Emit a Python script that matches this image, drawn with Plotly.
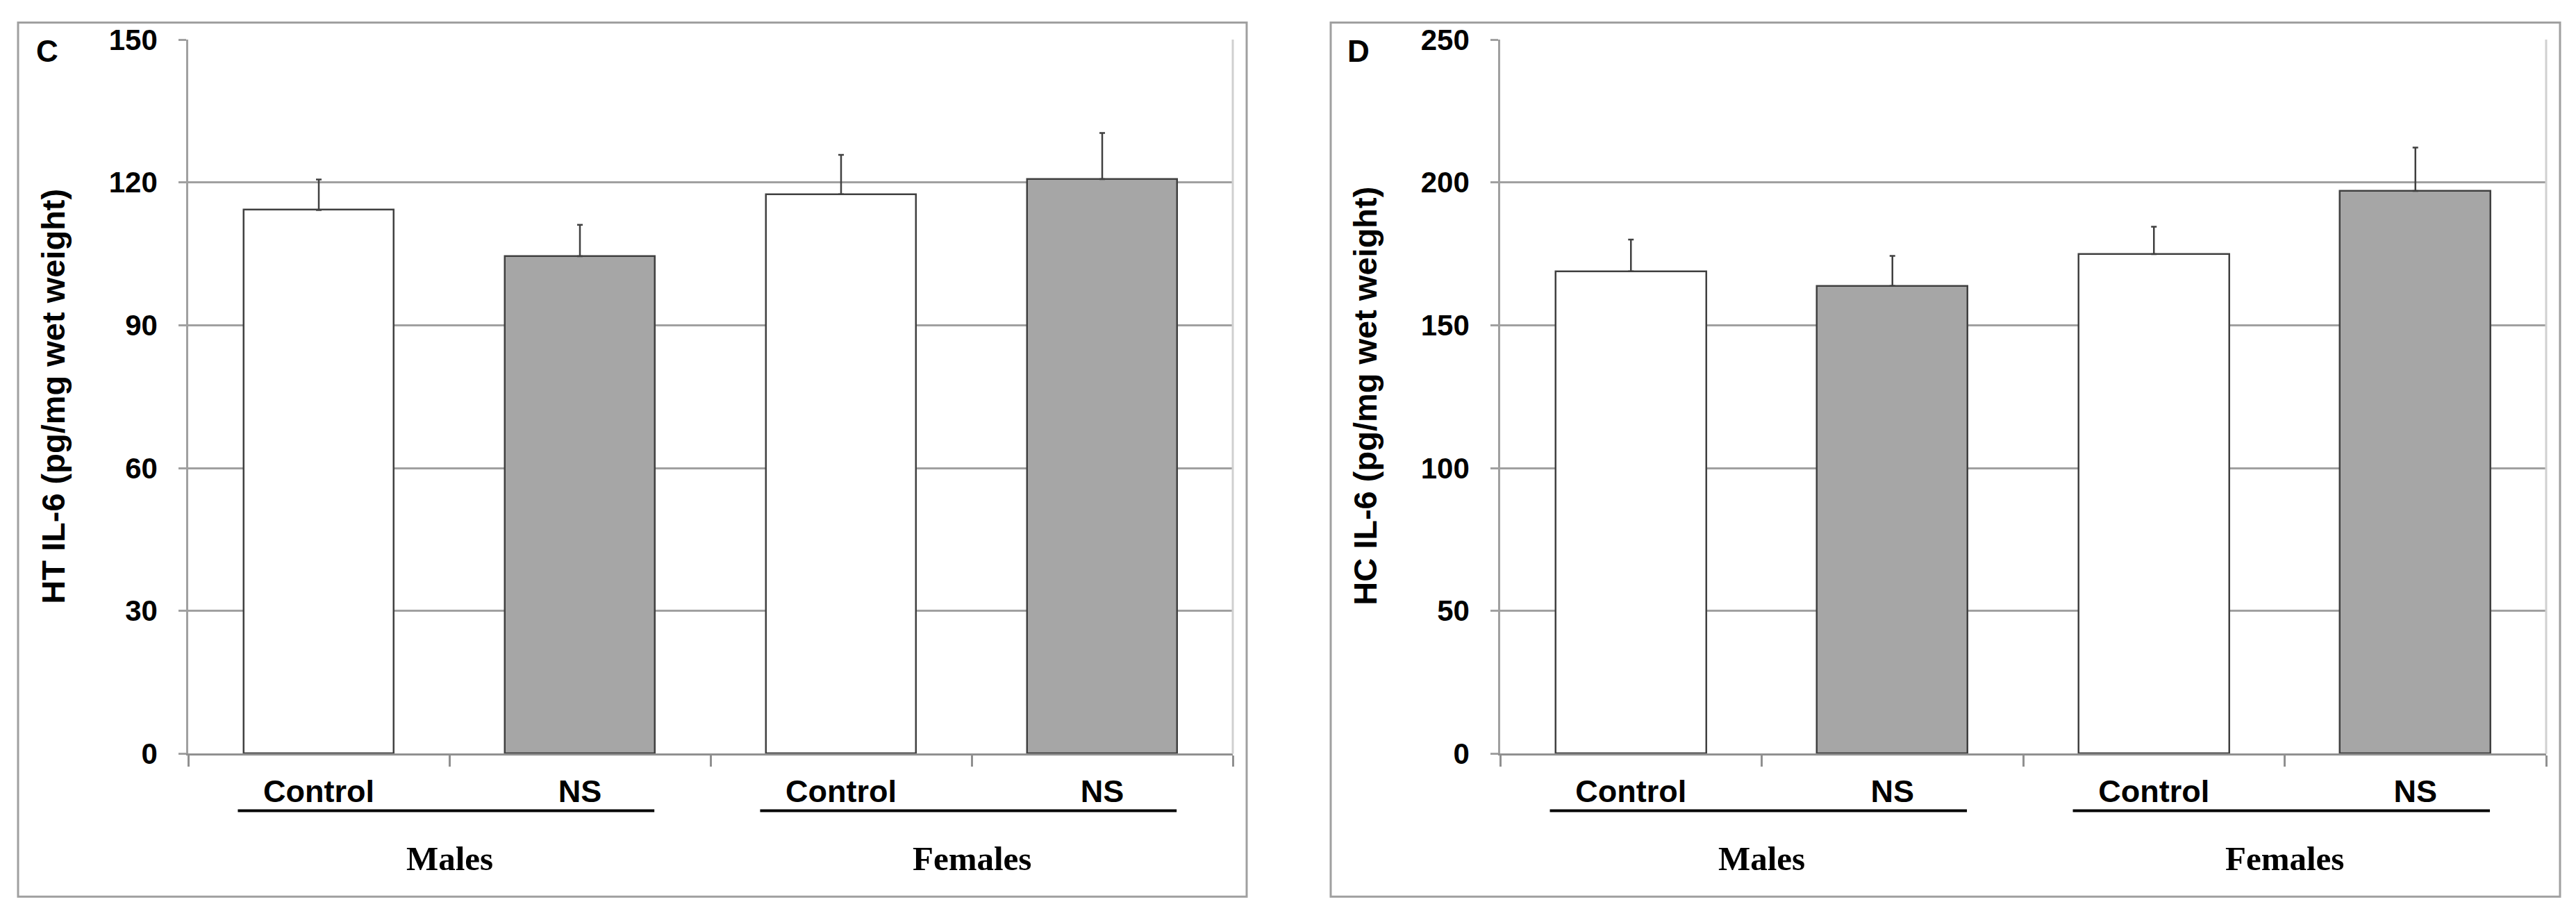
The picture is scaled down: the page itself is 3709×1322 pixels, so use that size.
import plotly.graph_objects as go

# ---- data ----
categories = ["Control", "NS", "Control", "NS"]
groups = ["Males", "Females"]
ht_il6 = [114.2, 104.5, 117.5, 120.7]
ht_err = [6.4, 6.6, 8.3, 9.7]
hc_il6 = [168.9, 163.8, 174.9, 197.0]
hc_err = [11.1, 10.5, 9.6, 15.2]
ht_ticks = [0, 30, 60, 90, 120, 150]
hc_ticks = [0, 50, 100, 150, 200, 250]
panel_letters = ["C", "D"]
ytitles = ["HT IL-6 (pg/mg wet weight)", "HC IL-6 (pg/mg wet weight)"]

# figure size and page placement (page offsets of the figure in the window)
W, H = 3693, 1330
OX = 8
OY = 31
SY = 1.036   # vertical page-to-picture factor


def px(x):
    return (x - OX) / W


def py(y):
    return 1 - (SY * y - OY) / H


bar_colors = ["#FFFFFF", "#A6A6A6", "#FFFFFF", "#A6A6A6"]
xpos = list(range(len(categories)))

SANS = "Liberation Sans, Arial, sans-serif"
SERIF = "Liberation Serif, Times New Roman, serif"
GRID = "#A0A0A0"
EDGE = "#404040"

fig = go.Figure()


def add_bars(vals, errs, xa, ya):
    fig.add_trace(go.Bar(
        x=xpos, y=vals, xaxis=xa, yaxis=ya, width=0.577,
        marker=dict(color=bar_colors, line=dict(color=EDGE, width=2.5)),
        error_y=dict(type="data", array=errs, arrayminus=[0] * len(errs),
                     symmetric=False, color=EDGE, thickness=2.5, width=4),
        showlegend=False, hoverinfo="skip"))


add_bars(ht_il6, ht_err, "x", "y")
add_bars(hc_il6, hc_err, "x2", "y2")

ydom = [py(1085), py(56)]
xdom1 = [px(271), px(1775)]
xdom2 = [px(2160), px(3666)]


def xaxis_cfg(dom, anchor):
    return dict(
        domain=dom, anchor=anchor, range=[-0.5, 3.5], tickmode="array",
        tickvals=xpos, ticktext=categories, ticks="", showgrid=False,
        zeroline=False, showline=True, linecolor="#909090", linewidth=2.5,
        tickfont=dict(family=SANS, size=45, color="black", weight="bold"),
        ticklabelstandoff=13,
        minor=dict(tickmode="array", tickvals=[-0.5, 0.5, 1.5, 2.5, 3.5],
                   ticks="outside", ticklen=16, tickwidth=2.5,
                   tickcolor="#909090", showgrid=False),
        fixedrange=True)


def yaxis_cfg(dom, ticks, anchor):
    return dict(
        domain=dom, range=[0, ticks[-1]], tickmode="array", tickvals=ticks,
        ticks="outside", ticklen=11, tickwidth=2.5, tickcolor=GRID,
        showgrid=True, gridcolor=GRID, gridwidth=2.5, zeroline=False,
        showline=True, linecolor=GRID, linewidth=2.5, anchor=anchor,
        tickfont=dict(family=SANS, size=42, color="black", weight="bold"),
        ticklabelstandoff=22, fixedrange=True)


fig.update_layout(
    width=W, height=H, autosize=False, margin=dict(l=0, r=0, t=0, b=0),
    paper_bgcolor="white", plot_bgcolor="white", bargap=0,
    xaxis=xaxis_cfg(xdom1, "y"),
    yaxis=yaxis_cfg(ydom, ht_ticks, "x"),
    xaxis2=xaxis_cfg(xdom2, "y2"),
    yaxis2=yaxis_cfg(ydom, hc_ticks, "x2"),
)

shapes = []
annotations = []
panels = [
    dict(border=(26, 1795), letter_x=68, title_x=77, xa="x", ya="y"),
    dict(border=(1916, 3686), letter_x=1956, title_x=1966, xa="x2", ya="y2"),
]

for i, p in enumerate(panels):
    x0, x1 = p["border"]
    shapes.append(dict(type="rect", xref="paper", yref="paper",
                       x0=px(x0), x1=px(x1), y0=py(1291), y1=1 - 1.5 / H,
                       line=dict(color=GRID, width=3), fillcolor="rgba(0,0,0,0)"))
    # right edge of plot area
    shapes.append(dict(type="line", xref=p["xa"] + " domain", yref=p["ya"] + " domain",
                       x0=1, x1=1, y0=0, y1=1, line=dict(color="#D0D0D0", width=3)))
    # group underlines
    for (a, b) in [(-0.31, 1.285), (1.69, 3.285)]:
        shapes.append(dict(type="line", xref=p["xa"], yref="paper",
                           x0=a, x1=b, y0=py(1167), y1=py(1167),
                           line=dict(color="black", width=4)))
    for gi, g in enumerate(groups):
        annotations.append(dict(text=g, xref=p["xa"], yref="paper",
                                x=0.5 + 2 * gi, y=py(1236), showarrow=False,
                                xanchor="center", yanchor="middle",
                                font=dict(family=SERIF, size=49, color="black",
                                          weight="bold")))
    annotations.append(dict(text=panel_letters[i], xref="paper", yref="paper",
                            x=px(p["letter_x"]), y=py(72), showarrow=False,
                            xanchor="center", yanchor="middle",
                            font=dict(family=SANS, size=44, color="black",
                                      weight="bold")))
    annotations.append(dict(text=ytitles[i], xref="paper", yref="paper",
                            x=px(p["title_x"]), y=py(570), showarrow=False,
                            textangle=-90, xanchor="center", yanchor="middle",
                            font=dict(family=SANS, size=47, color="black",
                                      weight="bold")))

fig.update_layout(shapes=shapes, annotations=annotations)
fig.write_html("out.html")
